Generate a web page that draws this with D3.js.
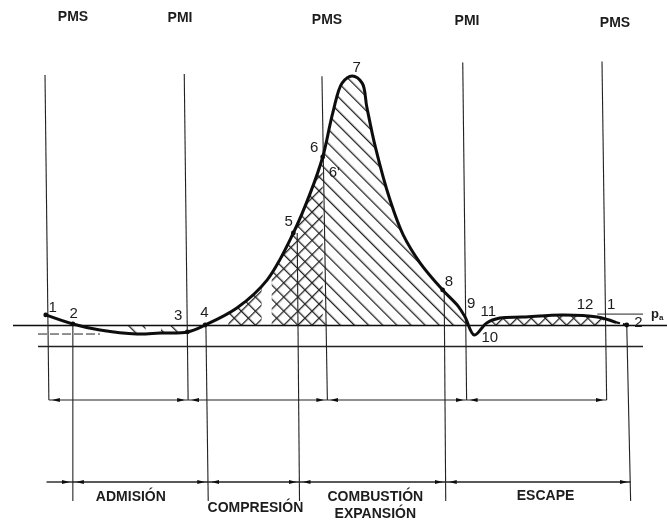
<!DOCTYPE html>
<html>
<head>
<meta charset="utf-8">
<script src="https://cdn.jsdelivr.net/npm/d3@7"></script>
<style>
  html, body { margin: 0; background: #fff; }
  text { font-family: "Liberation Sans", Arial, sans-serif; fill: #1c1c1c; }
  .dc { font-size: 14px; font-weight: bold; text-anchor: middle; }
  .phase { font-size: 14px; font-weight: bold; text-anchor: middle; }
  .num { font-size: 15px; text-anchor: middle; }
</style>
</head>
<body>
<svg id="chart" width="667" height="520"></svg>
<script>
// pressure curve: crank angle (deg) and pressure (bar)
const curveAngle = [1, 36, 71, 119, 149, 184, 207, 248, 287, 321, 343, 359, 372, 384, 397, 410, 416, 427, 446, 463, 485, 514, 534, 543, 555, 571, 588, 618, 670, 714, 737];
const curvePressure = [1.48, 1.05, 0.76, 0.57, 0.62, 0.67, 1.0, 1.81, 3.14, 5.38, 7.29, 9.0, 11.1, 12.52, 12.86, 12.52, 11.38, 9.48, 6.95, 5.29, 3.95, 2.67, 1.90, 1.38, 0.52, 1.10, 1.33, 1.38, 1.48, 1.38, 1.14];

// dead centres (the scan is slightly skewed, so top and bottom differ)
const deadCentreLabels = ["PMS", "PMI", "PMS", "PMI", "PMS"];
const deadCentreTop = [0, 180, 358, 540, 720];
const deadCentreBottom = [5, 185, 365, 545, 726];
const deadCentreHigh = [12.9, 12.95, 12.85, 13.5, 13.55];

// valve / phase boundaries
const phaseTop = [36, 208, 326, 516, 752];
const phaseBottom = [36, 211, 329, 518, 757];
const phasePressure = [1.05, 1.0, 5.38, 2.67, 1.0];
const phaseLabels = ["ADMISIÓN", "COMPRESIÓN", "COMBUSTIÓN", "EXPANSIÓN", "ESCAPE"];
const phaseLabelAngle = [111, 272, 427, 427, 647];
const phaseLabelRow = [496, 507, 496, 513, 495];

// numbered points on the curve
const pointNames = ["1", "2", "3", "4", "5", "6", "6'", "7", "8", "9", "10", "11", "12", "1", "2"];
const pointAngle = [10, 37, 172, 206, 315, 348, 374, 403, 522, 551, 575, 573, 698, 732, 767];
const pointPressure = [1.86, 1.57, 1.48, 1.62, 5.95, 9.48, 8.3, 13.3, 3.1, 2.05, 0.43, 1.67, 2.0, 2.0, 1.14];
const dotAngle = [1, 36, 184, 207, 321, 359, 514, 752];
const dotPressure = [1.48, 1.05, 0.67, 1.0, 5.38, 9.0, 2.67, 1.0];

// hatched bands [from, to] in degrees
const backBands = [[237, 280], [293, 545], [100, 130], [150, 180], [570, 722]];
const forwardBands = [[237, 280], [293, 359], [570, 722]];

const ambient = 1;

const svg = d3.select("#chart");
const x = d3.scaleLinear().domain([0, 720]).range([45, 602]);
const y = d3.scaleLinear().domain([0, 13]).range([346, 73]);

const defs = svg.append("defs");
defs.append("filter").attr("id", "scan")
    .append("feGaussianBlur").attr("stdDeviation", 0.4);

function hatch(id, rotate, size) {
    defs.append("pattern")
        .attr("id", id)
        .attr("patternUnits", "userSpaceOnUse")
        .attr("width", size).attr("height", size)
        .attr("patternTransform", `rotate(${rotate})`)
        .append("line")
        .attr("x1", 0).attr("y1", 0).attr("x2", 0).attr("y2", size)
        .attr("stroke", "#222").attr("stroke-width", 2.6);
}
hatch("back", -45, 10);
hatch("forward", 45, 10);

defs.append("marker")
    .attr("id", "head")
    .attr("viewBox", "0 0 8 4")
    .attr("refX", 11).attr("refY", 2)
    .attr("markerWidth", 8).attr("markerHeight", 4)
    .attr("markerUnits", "userSpaceOnUse")
    .attr("orient", "auto-start-reverse")
    .append("path").attr("d", "M0,0L8,2L0,4Z").attr("fill", "#111");

const g = svg.append("g").attr("filter", "url(#scan)");

const points = curveAngle.map((a, i) => [a, curvePressure[i]]);
const area = d3.area()
    .x(d => x(d[0])).y0(y(ambient)).y1(d => y(d[1]))
    .curve(d3.curveCatmullRom.alpha(0.5));
const line = d3.line()
    .x(d => x(d[0])).y(d => y(d[1]))
    .curve(d3.curveCatmullRom.alpha(0.5));

// hatching
function drawBands(bands, id) {
    bands.forEach((b, i) => {
        const clipId = `${id}-${i}`;
        defs.append("clipPath").attr("id", clipId)
            .append("rect")
            .attr("x", x(b[0])).attr("width", x(b[1]) - x(b[0]))
            .attr("y", 0).attr("height", 520);
        g.append("path").datum(points)
            .attr("d", area)
            .attr("fill", `url(#${id})`)
            .attr("clip-path", `url(#${clipId})`);
    });
}
drawBands(backBands, "back");
drawBands(forwardBands, "forward");

// reference lines
const thin = { stroke: "#222", width: 1.1 };
const baseY = y(ambient);
g.append("line").attr("x1", 13).attr("x2", 667).attr("y1", baseY + 0.5).attr("y2", baseY + 0.5)
    .attr("stroke", "#111").attr("stroke-width", 1.7);
g.append("line").attr("x1", 38).attr("x2", 643).attr("y1", y(0) + 0.5).attr("y2", y(0) + 0.5)
    .attr("stroke", thin.stroke).attr("stroke-width", 1.3);
g.append("line").attr("x1", 38).attr("x2", 100).attr("y1", y(0.57)).attr("y2", y(0.57))
    .attr("stroke", thin.stroke).attr("stroke-dasharray", "9 3").attr("stroke-width", 1);
g.append("line").attr("x1", x(714)).attr("x2", 643).attr("y1", y(1.52)).attr("y2", y(1.52))
    .attr("stroke", thin.stroke).attr("stroke-width", 1);

// vertical lines
const rowUpper = 400, rowLower = 482;
deadCentreTop.forEach((a, i) => {
    g.append("line")
        .attr("x1", x(a)).attr("y1", y(deadCentreHigh[i]))
        .attr("x2", x(deadCentreBottom[i])).attr("y2", rowUpper)
        .attr("stroke", thin.stroke).attr("stroke-width", thin.width);
});
phaseTop.forEach((a, i) => {
    g.append("line")
        .attr("x1", x(a)).attr("y1", y(phasePressure[i]))
        .attr("x2", x(phaseBottom[i])).attr("y2", 501)
        .attr("stroke", thin.stroke).attr("stroke-width", thin.width);
});

// stroke rows with arrows
d3.pairs(deadCentreBottom).forEach(([a, b]) => {
    g.append("line")
        .attr("x1", x(a)).attr("x2", x(b)).attr("y1", rowUpper).attr("y2", rowUpper)
        .attr("stroke", "#222").attr("stroke-width", 1.2)
        .attr("marker-start", "url(#head)").attr("marker-end", "url(#head)");
});
d3.pairs([2].concat(phaseBottom)).forEach(([a, b], i) => {
    const seg = g.append("line")
        .attr("x1", x(a)).attr("x2", x(b)).attr("y1", rowLower).attr("y2", rowLower)
        .attr("stroke", "#222").attr("stroke-width", 1.4)
        .attr("marker-end", "url(#head)");
    if (i > 0) seg.attr("marker-start", "url(#head)");
});

// pressure curve
g.append("path").datum(points)
    .attr("d", line)
    .attr("fill", "none")
    .attr("stroke", "#0c0c0c")
    .attr("stroke-width", 3)
    .attr("stroke-linecap", "round");
g.append("line")
    .attr("x1", x(737)).attr("x2", x(752)).attr("y1", y(1.14)).attr("y2", y(1.0))
    .attr("stroke", "#0c0c0c").attr("stroke-width", 2.2).attr("stroke-dasharray", "5 3");

g.selectAll(".dot").data(dotAngle).enter().append("circle")
    .attr("class", "dot")
    .attr("cx", d => x(d))
    .attr("cy", (d, i) => y(dotPressure[i]))
    .attr("r", 2.4)
    .attr("fill", "#0c0c0c");

// labels
const dcLabelX = [73, 180, 327, 467, 615];
const dcLabelY = [21, 22, 24, 25, 27];
g.selectAll(".dc").data(deadCentreLabels).enter().append("text")
    .attr("class", "dc")
    .attr("x", (d, i) => dcLabelX[i]).attr("y", (d, i) => dcLabelY[i])
    .text(d => d);

g.selectAll(".num").data(pointNames).enter().append("text")
    .attr("class", "num")
    .attr("x", (d, i) => x(pointAngle[i]))
    .attr("y", (d, i) => y(pointPressure[i]) + 5)
    .text(d => d);

g.append("text").attr("x", 651).attr("y", 318).attr("font-size", 13).attr("font-weight", "bold").text("p");
g.append("text").attr("x", 659).attr("y", 320).attr("font-size", 8).attr("font-weight", "bold").text("a");

g.selectAll(".phase").data(phaseLabels).enter().append("text")
    .attr("class", "phase")
    .attr("x", (d, i) => x(phaseLabelAngle[i]))
    .attr("y", (d, i) => phaseLabelRow[i] + 5)
    .text(d => d);
</script>
</body>
</html>
